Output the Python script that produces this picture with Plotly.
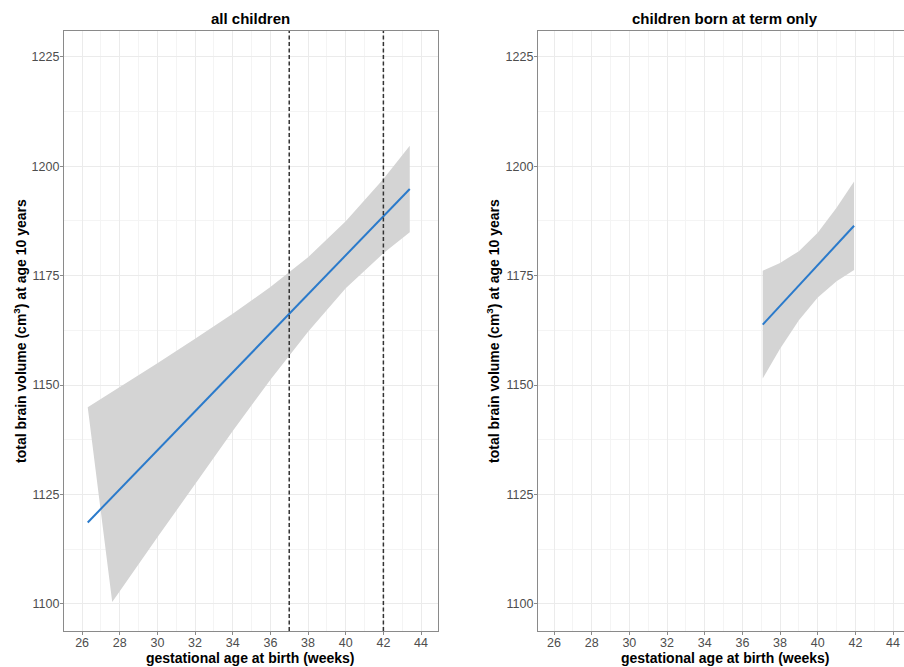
import plotly.graph_objects as go

# ---------------- data ----------------
panel_titles = ["all children", "children born at term only"]
x_title = "gestational age at birth (weeks)"
y_title = "total brain volume (cm<sup>3</sup>) at age 10 years"

# panel 1: all children (linear fit + 95% CI band)
all_x = [26.3, 27.6, 28, 30, 32, 34, 36, 38, 40, 42, 43.4]
all_fit = [1118.6, 1124.4, 1126.2, 1135.1, 1144.0, 1152.9, 1161.8, 1170.7, 1179.7, 1188.6, 1194.8]
all_upper = [1144.9, 1148.4, 1149.5, 1155.0, 1160.6, 1166.3, 1172.4, 1179.2, 1187.4, 1197.1, 1204.7]
all_lower = [None, 1100.4, 1102.9, 1115.2, 1127.4, 1139.5, 1151.2, 1162.2, 1172.1, 1180.1, 1184.9]

# panel 2: children born at term only
term_x = [37.08, 38, 39, 40, 41, 41.93]
term_fit = [1163.8, 1168.1, 1172.7, 1177.4, 1182.1, 1186.4]
term_upper = [1176.1, 1177.9, 1180.6, 1184.8, 1190.5, 1196.5]
term_lower = [1151.5, 1158.3, 1164.8, 1170.0, 1173.7, 1176.3]

# term cut-offs (dashed lines, panel 1)
term_cutoffs = [37, 42]

x_ticks = [26, 28, 30, 32, 34, 36, 38, 40, 42, 44]
y_ticks = [1100, 1125, 1150, 1175, 1200, 1225]

# ---------------- styling ----------------
W, H = 904, 667
FONT = "Liberation Sans, Arial, sans-serif"
BAND = "#d4d4d4"
LINE = "#2a7acb"
BORDER = "#8a8a8a"
GRID_MAJ = "#ebebeb"
GRID_MIN = "#f4f4f4"
TICKC = "#4d4d4d"

y_dom = [1 - 631 / H, 1 - 31 / H]
left_dom = [64 / W, 438 / W]
right_dom = [538 / W, 1.0]
y_range = [1093.8, 1230.9]


def band_polygon(xs, up, lo):
    px, py = [], []
    for x, u in zip(xs, up):
        px.append(x)
        py.append(u)
    for x, l in zip(reversed(xs), reversed(lo)):
        if l is not None:
            px.append(x)
            py.append(l)
    px.append(px[0])
    py.append(py[0])
    return px, py


fig = go.Figure()

bx, by = band_polygon(all_x, all_upper, all_lower)
fig.add_trace(go.Scatter(x=bx, y=by, fill="toself", fillcolor=BAND, mode="lines",
                         line=dict(width=0, color=BAND), hoverinfo="skip",
                         xaxis="x", yaxis="y", showlegend=False))
fig.add_trace(go.Scatter(x=all_x, y=all_fit, mode="lines", line=dict(color=LINE, width=2),
                         xaxis="x", yaxis="y", showlegend=False))

bx2, by2 = band_polygon(term_x, term_upper, term_lower)
fig.add_trace(go.Scatter(x=bx2, y=by2, fill="toself", fillcolor=BAND, mode="lines",
                         line=dict(width=0, color=BAND), hoverinfo="skip",
                         xaxis="x2", yaxis="y2", showlegend=False))
fig.add_trace(go.Scatter(x=term_x, y=term_fit, mode="lines", line=dict(color=LINE, width=2),
                         xaxis="x2", yaxis="y2", showlegend=False))

for c in term_cutoffs:
    fig.add_shape(type="line", xref="x", yref="y domain", x0=c, x1=c, y0=0, y1=1,
                  line=dict(color="#333333", width=1.5, dash="4px,2.5px"), layer="above")

xaxis_common = dict(
    tickvals=x_ticks, ticks="outside", ticklen=3, tickcolor=BORDER, tickwidth=1,
    tickfont=dict(family=FONT, size=12.5, color=TICKC), ticklabelstandoff=-3,
    showgrid=True, gridcolor=GRID_MAJ, gridwidth=1,
    minor=dict(showgrid=True, dtick=1, tick0=25, gridcolor=GRID_MIN, gridwidth=1),
    showline=True, linecolor=BORDER, linewidth=1.2, zeroline=False,
)
yaxis_common = dict(
    tickvals=y_ticks, range=y_range, ticks="outside", ticklen=3, tickcolor=BORDER, tickwidth=1,
    tickfont=dict(family=FONT, size=12.5, color=TICKC), ticklabelstandoff=-2,
    showgrid=True, gridcolor=GRID_MAJ, gridwidth=1,
    minor=dict(showgrid=True, dtick=12.5, tick0=1100, gridcolor=GRID_MIN, gridwidth=1),
    showline=True, linecolor=BORDER, linewidth=1.2, zeroline=False,
)

fig.update_layout(
    width=W, height=H,
    margin=dict(l=0, r=0, t=0, b=0),
    paper_bgcolor="white", plot_bgcolor="white",
    font=dict(family=FONT),
    xaxis=dict(domain=left_dom, range=[25.04, 44.90], anchor="y", mirror=True, **xaxis_common),
    yaxis=dict(domain=y_dom, anchor="x", mirror=True, **yaxis_common),
    xaxis2=dict(domain=right_dom, range=[25.15, 44.58], anchor="y2", mirror=True, **xaxis_common),
    yaxis2=dict(domain=y_dom, anchor="x2", mirror=False, **yaxis_common),
    showlegend=False,
)

# titles
title_font = dict(family=FONT, size=15, color="black")
axis_font = dict(family=FONT, size=14, color="black")
ann = dict(xref="paper", yref="paper", showarrow=False, xanchor="center", yanchor="middle")
fig.add_annotation(text="<b>" + panel_titles[0] + "</b>",
                   x=(left_dom[0] + left_dom[1]) / 2, y=1 - 18 / H, font=title_font, **ann)
fig.add_annotation(text="<b>" + panel_titles[1] + "</b>",
                   x=(538 + 374 / 2) / W, y=1 - 18 / H, font=title_font, **ann)
fig.add_annotation(text="<b>" + x_title + "</b>",
                   x=(left_dom[0] + left_dom[1]) / 2, y=1 - 658 / H, font=axis_font, **ann)
fig.add_annotation(text="<b>" + x_title + "</b>",
                   x=(538 + 374 / 2) / W, y=1 - 658 / H, font=axis_font, **ann)
fig.add_annotation(text="<b>" + y_title + "</b>",
                   x=20 / W, y=(y_dom[0] + y_dom[1]) / 2, textangle=-90, font=axis_font, **ann)
fig.add_annotation(text="<b>" + y_title + "</b>",
                   x=493 / W, y=(y_dom[0] + y_dom[1]) / 2, textangle=-90, font=axis_font, **ann)

fig.write_html("out.html")
